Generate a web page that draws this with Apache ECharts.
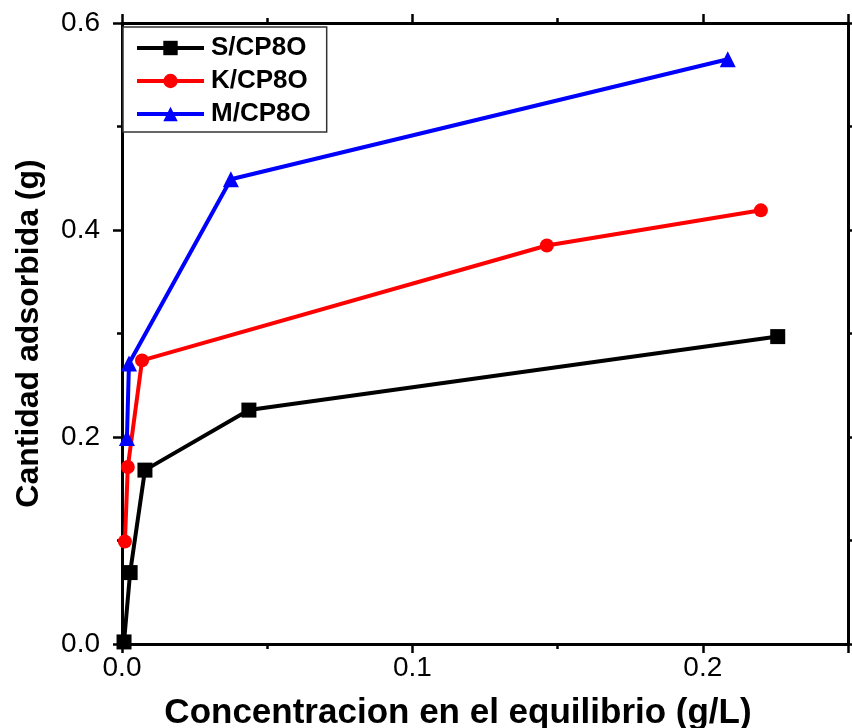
<!DOCTYPE html>
<html>
<head>
<meta charset="utf-8">
<script src="https://cdn.jsdelivr.net/npm/echarts@6/dist/echarts.min.js"></script>
<style>
  html, body { margin: 0; padding: 0; background: #fff; }
  #chart { width: 852px; height: 728px; }
</style>
</head>
<body>
<div id="chart"></div>
<script>
// Isotherm data: equilibrium concentration (g/L) vs adsorbed amount (g)
const seriesNames = ['S/CP8O', 'K/CP8O', 'M/CP8O'];
const sConc = [0.0007, 0.0028, 0.0079, 0.0437, 0.2258];
const sAds  = [0.002, 0.069, 0.168, 0.226, 0.297];
const kConc = [0.0010, 0.0020, 0.0069, 0.1463, 0.2200];
const kAds  = [0.099, 0.171, 0.274, 0.385, 0.419];
const mConc = [0.0017, 0.0024, 0.0375, 0.2086];
const mAds  = [0.199, 0.271, 0.449, 0.565];
const colors = ['#000000', '#ff0000', '#0000ff'];
const symbols = ['rect', 'circle', 'triangle'];
const symbolSizes = [15, 14, 16];

const pairs = (xs, ys) => xs.map((x, i) => [x, ys[i]]);
const seriesData = [pairs(sConc, sAds), pairs(kConc, kAds), pairs(mConc, mAds)];

const FONT = '"Liberation Sans", Arial, sans-serif';
const axisLine = { show: true, onZero: false, lineStyle: { color: '#000', width: 3 } };
const tickStyle = { show: true, inside: false, length: 9, lineStyle: { color: '#000', width: 2.5 } };
const minorStyle = { show: true, splitNumber: 2, length: 5, lineStyle: { color: '#000', width: 2.5 } };

const chart = echarts.init(document.getElementById('chart'), null, { renderer: 'canvas' });
chart.setOption({
  backgroundColor: '#fff',
  animation: false,
  grid: { left: 122, right: 4, top: 23, bottom: 84, containLabel: false, outerBoundsMode: 'none' },
  legend: {
    orient: 'vertical',
    left: 123, top: 27,
    padding: [8, 16, 5, 12],
    itemWidth: 67, itemHeight: 18, itemGap: 7,
    borderColor: '#333', borderWidth: 1.5,
    backgroundColor: '#fff',
    lineStyle: { width: 4 },
    textStyle: { fontFamily: FONT, fontWeight: 'bold', fontSize: 26, color: '#000', padding: [0, 0, 0, 2] },
    data: seriesNames
  },
  xAxis: [
    {
      type: 'value', position: 'bottom', min: 0, max: 0.25, interval: 0.1,
      axisLine, axisTick: tickStyle, minorTick: minorStyle,
      splitLine: { show: false },
      axisLabel: { fontFamily: FONT, fontSize: 28, color: '#000', margin: 10,
        formatter: v => v.toFixed(1), showMaxLabel: false },
      name: 'Concentracion en el equilibrio (g/L)',
      nameLocation: 'middle', nameGap: 52,
      nameTextStyle: { fontFamily: FONT, fontWeight: 'bold', fontSize: 35, color: '#000',
        padding: [0, 54, 0, 0] }
    },
    {
      type: 'value', position: 'top', min: 0, max: 0.25, interval: 0.1,
      axisLine, axisTick: tickStyle, minorTick: minorStyle,
      splitLine: { show: false }, axisLabel: { show: false }
    }
  ],
  yAxis: [
    {
      type: 'value', position: 'left', min: 0, max: 0.6, interval: 0.2,
      axisLine, axisTick: tickStyle, minorTick: minorStyle,
      splitLine: { show: false },
      axisLabel: { fontFamily: FONT, fontSize: 28, color: '#000', margin: 22,
        formatter: v => v.toFixed(1) },
      name: 'Cantidad adsorbida (g)',
      nameLocation: 'middle', nameGap: 77,
      nameTextStyle: { fontFamily: FONT, fontWeight: 'bold', fontSize: 32, color: '#000' }
    },
    {
      type: 'value', position: 'right', min: 0, max: 0.6, interval: 0.2,
      axisLine, axisTick: tickStyle, minorTick: minorStyle,
      splitLine: { show: false }, axisLabel: { show: false }
    }
  ],
  series: seriesNames.map((name, i) => ({
    name,
    type: 'line',
    xAxisIndex: 0, yAxisIndex: 0,
    data: seriesData[i],
    symbol: symbols[i],
    symbolSize: symbolSizes[i],
    showAllSymbol: true,
    lineStyle: { color: colors[i], width: 4 },
    itemStyle: { color: colors[i] },
    emphasis: { disabled: true },
    z: 3 + i
  }))
});
</script>
</body>
</html>
